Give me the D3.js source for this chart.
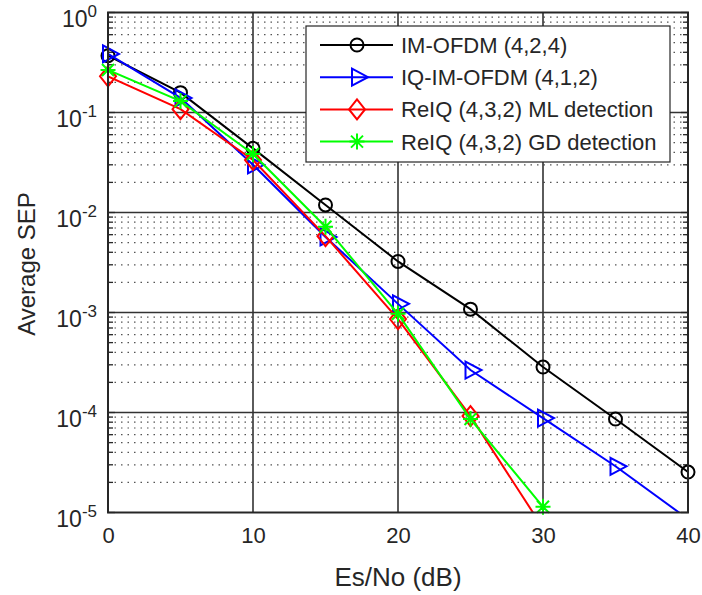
<!DOCTYPE html>
<html>
<head>
<meta charset="utf-8">
<style>
body { margin: 0; background: #fff; }
text { font-family: "Liberation Sans", Arial, sans-serif; fill: #262626; }
</style>
</head>
<body>
<script src="https://cdn.jsdelivr.net/npm/d3@7"></script>
<script>
// x values (Es/No in dB)
var snr = [0, 5, 10, 15, 20, 25, 30, 35, 40];
// series values
var imOfdm   = [0.37, 0.158, 0.0438, 0.0119, 0.00324, 0.00108, 0.000285, 0.000086, 0.0000254];
var iqImOfdm = [0.385, 0.14, 0.030, 0.0057, 0.00122, 0.000266, 0.000088, 0.000029, 0.0000086];
var reiqMl   = [0.23, 0.108, 0.0335, 0.0058, 0.00086, 0.000092, 0.000007];
var reiqGd   = [0.266, 0.13, 0.0385, 0.0072, 0.00097, 0.000086, 0.0000114];
var seriesNames = ["IM-OFDM (4,2,4)", "IQ-IM-OFDM (4,1,2)", "ReIQ (4,3,2) ML detection", "ReIQ (4,3,2) GD detection"];
var seriesColors = ["#000000", "#0000ff", "#ff0000", "#00ff00"];
var seriesMarkers = ["circle", "triangle", "diamond", "star"];
var xTicks = [0, 10, 20, 30, 40];
var yExps = [0, -1, -2, -3, -4, -5];

var W = 702, H = 595;
// plot box edges (window.top is reserved, so use own names)
var pL = 108, pR = 688, pT = 12.5, pB = 512.5;

var svg = d3.select("body").append("svg").attr("width", W).attr("height", H);

var x = d3.scaleLinear().domain([0, 40]).range([pL, pR]);
var y = d3.scaleLog().domain([1e-5, 1]).range([pB, pT]);

svg.append("rect").attr("x", pL).attr("y", pT)
   .attr("width", pR - pL).attr("height", pB - pT).attr("fill", "#fff");

// minor grid (dotted)
var minorVals = [];
for (var e = -5; e < 0; e++) {
  for (var m = 2; m <= 9; m++) minorVals.push(m * Math.pow(10, e));
}
svg.append("g").selectAll("line").data(minorVals).enter().append("line")
   .attr("x1", pL).attr("x2", pR)
   .attr("y1", function(d) { return y(d); }).attr("y2", function(d) { return y(d); })
   .attr("stroke", "#555").attr("stroke-width", 1.2).attr("stroke-dasharray", "1.5,5");

// major grid
svg.append("g").selectAll("line").data(yExps.slice(1, 5)).enter().append("line")
   .attr("x1", pL).attr("x2", pR)
   .attr("y1", function(d) { return y(Math.pow(10, d)); }).attr("y2", function(d) { return y(Math.pow(10, d)); })
   .attr("stroke", "#333").attr("stroke-width", 1.6);
svg.append("g").selectAll("line").data(xTicks.slice(1, 4)).enter().append("line")
   .attr("y1", pT).attr("y2", pB)
   .attr("x1", function(d) { return x(d); }).attr("x2", function(d) { return x(d); })
   .attr("stroke", "#333").attr("stroke-width", 1.6);

// inner tick marks, left and right
var tk = svg.append("g").attr("stroke", "#262626").attr("stroke-width", 1.3);
minorVals.forEach(function(v) {
  tk.append("line").attr("x1", pL).attr("x2", pL + 5).attr("y1", y(v)).attr("y2", y(v));
  tk.append("line").attr("x1", pR - 5).attr("x2", pR).attr("y1", y(v)).attr("y2", y(v));
});
yExps.forEach(function(ex) {
  var v = y(Math.pow(10, ex));
  tk.append("line").attr("x1", pL).attr("x2", pL + 7).attr("y1", v).attr("y2", v);
  tk.append("line").attr("x1", pR - 7).attr("x2", pR).attr("y1", v).attr("y2", v);
});

// clip for the lines
svg.append("clipPath").attr("id", "plotclip").append("rect")
   .attr("x", pL).attr("y", pT).attr("width", pR - pL).attr("height", pB - pT);

var line = d3.line().x(function(d) { return x(d[0]); }).y(function(d) { return y(d[1]); });

function markerPath(type) {
  if (type == "triangle") return "M-5,-8.5L11,0L-5,8.5Z";
  if (type == "diamond") return "M0,-10L8,0L0,10L-8,0Z";
  if (type == "star") return "M-7.5,0L7.5,0M0,-8L0,8M-6,-6L6,6M-6,6L6,-6";
  return null;
}

function drawMarker(g, type, cx, cy, col) {
  if (type == "circle") {
    g.append("circle").attr("cx", cx).attr("cy", cy).attr("r", 6.5)
     .attr("fill", "none").attr("stroke", col).attr("stroke-width", 2);
  } else {
    g.append("path").attr("d", markerPath(type)).attr("transform", "translate(" + cx + "," + cy + ")")
     .attr("fill", "none").attr("stroke", col).attr("stroke-width", 2);
  }
}

var allSeries = [imOfdm, iqImOfdm, reiqMl, reiqGd];
allSeries.forEach(function(vals, i) {
  var pts = vals.map(function(v, k) { return [snr[k], v]; });
  var g = svg.append("g");
  g.append("path").datum(pts).attr("d", line).attr("clip-path", "url(#plotclip)")
   .attr("fill", "none").attr("stroke", seriesColors[i]).attr("stroke-width", 2);
  pts.filter(function(p) { return p[1] >= 1e-5; }).forEach(function(p) {
    drawMarker(g, seriesMarkers[i], x(p[0]), y(p[1]), seriesColors[i]);
  });
});

// axes box
svg.append("rect").attr("x", pL).attr("y", pT)
   .attr("width", pR - pL).attr("height", pB - pT)
   .attr("fill", "none").attr("stroke", "#262626").attr("stroke-width", 2);

var xAxis = d3.axisBottom(x).tickValues(xTicks).tickSize(0).tickPadding(15);
svg.append("g").attr("transform", "translate(0," + pB + ")").call(xAxis)
   .call(function(g) { g.select(".domain").remove(); })
   .selectAll("text").attr("font-size", 22).attr("fill", "#262626")
   .attr("font-family", "Liberation Sans, Arial, sans-serif");

var yl = svg.append("g");
yExps.forEach(function(ex) {
  var t = yl.append("text").attr("x", 97).attr("y", y(Math.pow(10, ex)) + 14)
    .attr("text-anchor", "end").attr("font-size", 23);
  t.append("tspan").text("10");
  t.append("tspan").attr("dy", -10).attr("font-size", 17).text(ex == 0 ? "0" : "-" + (-ex));
});

svg.append("text").attr("x", (pL + pR) / 2).attr("y", 586).attr("text-anchor", "middle")
   .attr("font-size", 26).text("Es/No (dB)");
svg.append("text").attr("transform", "translate(35,264) rotate(-90)")
   .attr("text-anchor", "middle").attr("font-size", 24).text("Average SEP");

// legend
var lg = svg.append("g");
lg.append("rect").attr("x", 306).attr("y", 26).attr("width", 364).attr("height", 136)
  .attr("fill", "#fff").attr("stroke", "#262626").attr("stroke-width", 1.2);
seriesNames.forEach(function(name, i) {
  var ry = 45 + i * 32.2;
  lg.append("line").attr("x1", 320).attr("x2", 393).attr("y1", ry).attr("y2", ry)
    .attr("stroke", seriesColors[i]).attr("stroke-width", 2);
  drawMarker(lg, seriesMarkers[i], 357, ry, seriesColors[i]);
  lg.append("text").attr("x", 401).attr("y", ry + 8).attr("font-size", 22).attr("fill", "#000").text(name);
});
</script>
</body>
</html>
